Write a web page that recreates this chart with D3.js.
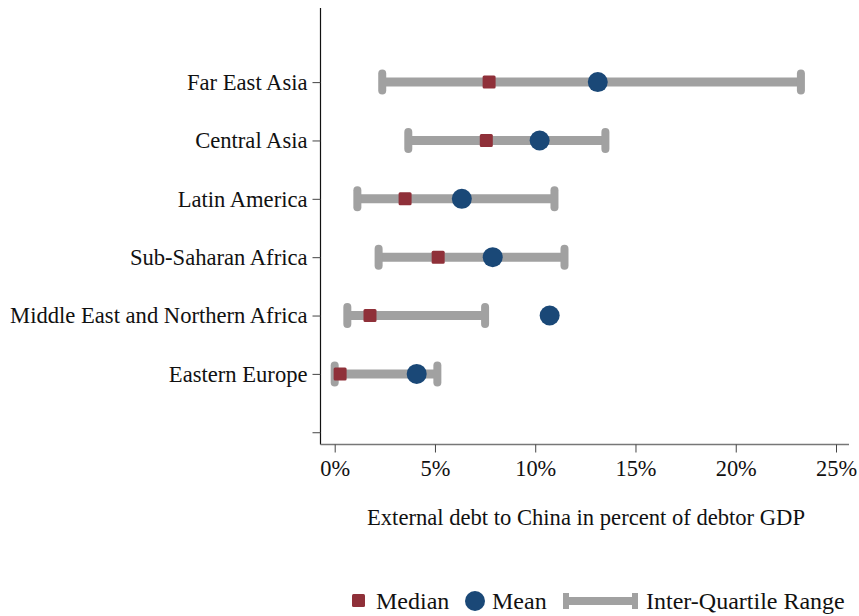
<!DOCTYPE html>
<html>
<head>
<meta charset="utf-8">
<script src="https://cdn.jsdelivr.net/npm/d3@7"></script>
<style>
  html, body { margin: 0; padding: 0; background: #fff; }
  svg { display: block; }
  text { font-family: "Liberation Serif", "Times New Roman", serif; fill: #111; }
</style>
</head>
<body>
<svg id="chart" width="859" height="616"></svg>
<script>
const categories = ["Far East Asia", "Central Asia", "Latin America", "Sub-Saharan Africa", "Middle East and Northern Africa", "Eastern Europe"];
const q1Values     = [2.37, 3.67, 1.13, 2.19, 0.63, 0.0];
const q3Values     = [23.25, 13.5, 10.96, 11.46, 7.5, 5.12];
const medianValues = [7.7, 7.56, 3.51, 5.16, 1.76, 0.27];
const meanValues   = [13.12, 10.22, 6.34, 7.88, 10.72, 4.09];
const xTicks = [0, 5, 10, 15, 20, 25];
const xTitle = "External debt to China in percent of debtor GDP";
const legendLabels = ["Median", "Mean", "Inter-Quartile Range"];

const colMedian = "#8f3039";
const colMean = "#1a4877";
const colIQR = "#a1a1a1";
const serif = "'Liberation Serif', 'Times New Roman', serif";

const svg = d3.select("#chart");

// scales
const x0 = d3.scaleLinear().domain([0, 25]).range([334.7, 836]);
const xMinV = x0.invert(320.5), xMaxV = x0.invert(849);
const x = d3.scaleLinear().domain([xMinV, xMaxV]).range([320.5, 849]);
const y = d3.scaleLinear().domain([-1.27, 6.21]).range([8, 444.5]);

// axes
const yAxis = d3.axisLeft(y)
  .tickValues(d3.range(categories.length + 1))
  .tickFormat(i => categories[i] || "")
  .tickSize(8).tickPadding(5);
const gy = svg.append("g").attr("transform", "translate(320.5,0)").call(yAxis)
  .attr("font-family", serif);
gy.select(".domain").attr("stroke", "#111").attr("stroke-width", 1.2).attr("d", `M0,${y.range()[0]}V${y.range()[1]}`);
gy.selectAll(".tick line").attr("stroke", "#444");
gy.selectAll(".tick text").attr("font-size", 22.6).attr("fill", "#111").attr("font-family", serif);

const xAxis = d3.axisBottom(x)
  .tickValues(xTicks)
  .tickFormat(d => d + "%")
  .tickSize(8).tickPadding(8);
const gx = svg.append("g").attr("transform", "translate(0,444.5)").call(xAxis)
  .attr("font-family", serif);
gx.select(".domain").attr("stroke", "#777").attr("stroke-width", 1.6).attr("d", `M${x.range()[0]},0H${x.range()[1]}`);
gx.selectAll(".tick line").attr("stroke", "#444");
gx.selectAll(".tick text").attr("font-size", 22.4).attr("fill", "#111").attr("font-family", serif);

svg.append("text")
  .attr("x", 586).attr("y", 525)
  .attr("text-anchor", "middle")
  .attr("font-size", 22.6)
  .attr("font-family", serif)
  .text(xTitle);

// marks
const rows = categories.map((c, i) => ({ c, i, q1: q1Values[i], q3: q3Values[i], med: medianValues[i], mean: meanValues[i] }));
const gm = svg.append("g");

gm.selectAll("line.iqr").data(rows).join("line")
  .attr("class", "iqr")
  .attr("x1", d => x(d.q1)).attr("x2", d => x(d.q3))
  .attr("y1", d => y(d.i)).attr("y2", d => y(d.i))
  .attr("stroke", colIQR).attr("stroke-width", 9);

const capW = 8, capH = 25;
rows.forEach(d => {
  [d.q1, d.q3].forEach(v => {
    gm.append("rect")
      .attr("x", x(v) - capW / 2).attr("y", y(d.i) - capH / 2)
      .attr("width", capW).attr("height", capH)
      .attr("rx", 4).attr("ry", 4)
      .attr("fill", colIQR);
  });
});

const sq = 13;
gm.selectAll("rect.med").data(rows).join("rect")
  .attr("class", "med")
  .attr("x", d => x(d.med) - sq / 2).attr("y", d => y(d.i) - sq / 2)
  .attr("width", sq).attr("height", sq).attr("rx", 1.5)
  .attr("fill", colMedian);

gm.selectAll("circle.mean").data(rows).join("circle")
  .attr("class", "mean")
  .attr("cx", d => x(d.mean)).attr("cy", d => y(d.i))
  .attr("r", 10)
  .attr("fill", colMean);

// legend
const ly = 601;
const lg = svg.append("g").attr("font-family", serif);
lg.append("rect").attr("x", 352).attr("y", ly - 7).attr("width", 13).attr("height", 13).attr("rx", 1.5).attr("fill", colMedian);
lg.append("text").attr("x", 376).attr("y", ly + 8).attr("font-size", 24).text(legendLabels[0]);
lg.append("circle").attr("cx", 475).attr("cy", ly).attr("r", 10).attr("fill", colMean);
lg.append("text").attr("x", 492).attr("y", ly + 8).attr("font-size", 24).text(legendLabels[1]);
lg.append("line").attr("x1", 563).attr("x2", 638).attr("y1", ly).attr("y2", ly).attr("stroke", colIQR).attr("stroke-width", 8);
lg.append("rect").attr("x", 563).attr("y", ly - 8).attr("width", 6).attr("height", 16).attr("fill", colIQR);
lg.append("rect").attr("x", 632).attr("y", ly - 8).attr("width", 6).attr("height", 16).attr("fill", colIQR);
lg.append("text").attr("x", 646).attr("y", ly + 8).attr("font-size", 24).text(legendLabels[2]);
</script>
</body>
</html>
